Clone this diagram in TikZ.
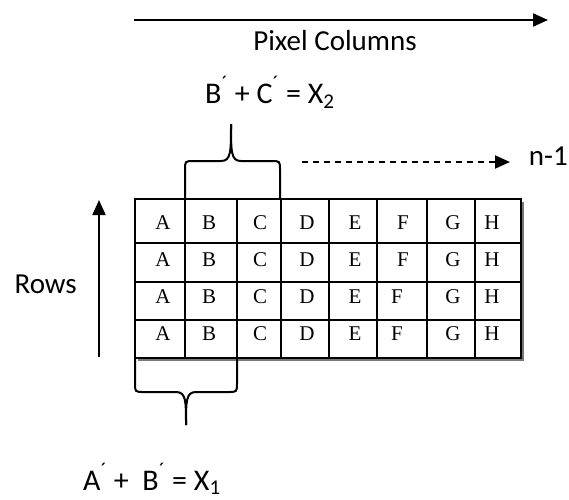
\documentclass[tikz,border=0pt]{standalone}
\usepackage{fontspec}
\setmainfont{Carlito}
\newfontfamily\fonteTab{Liberation Serif}
\usetikzlibrary{arrows.meta,positioning}
\definecolor{sombra}{RGB}{120,120,120}
\newcommand{\linha}{\raisebox{0.25ex}{\textsuperscript{´}}}
\tikzset{
  rotulo/.style={font=\fontsize{29}{32}\selectfont, inner sep=0pt},
  soma/.style={font=\fontsize{30}{33}\selectfont, inner sep=0pt},
  letra/.style={font=\fonteTab\fontsize{21}{23}\selectfont, inner sep=0pt},
  seta/.style={-{Triangle[length=15pt,width=13pt]}, line width=2pt},
  setatrac/.style={seta, dash pattern=on 6pt off 5pt},
  chave/.style={line width=2pt, line join=round},
  grade/.style={line width=1.6pt},
}
\begin{document}
\begin{tikzpicture}[x=1pt, y=-1pt]
  \useasboundingbox (0,0) rectangle (569,499);
  % setas e rotulos
  \coordinate (colini) at (134,20);
  \coordinate (colfim) at (548,20);
  \draw[seta] (colini) -- (colfim);
  \node[rotulo, anchor=base] (colunas) at (335,50) {Pixel Columns};
  \node[soma, anchor=base west] (somaX2) at (205,103) {B\linha\ + C\linha\ = X\textsubscript{2}};
  \coordinate (tracini) at (302,162);
  \coordinate (tracfim) at (510,162);
  \draw[setatrac] (tracini) -- (tracfim);
  \node[rotulo, anchor=base east] (n1) at (568,165) {n-1};
  \coordinate (linini) at (99,357);
  \coordinate (linfim) at (99,200);
  \draw[seta] (linini) -- (linfim);
  \node[rotulo, anchor=base east] (linhas) at (77,293) {Rows};
  \node[soma, anchor=base west] (somaX1) at (83,490) {A\linha\ +\ \ B\linha\ = X\textsubscript{1}};
  % tabela
  \fill[sombra] (138,202) rectangle (524,361);
  \fill[white] (135,199) rectangle (521,358);
  \foreach \x in {185,237,281,329,377,427,475}
    \draw[grade] (\x,199) -- (\x,358);
  \foreach \y in {243,282,320}
    \draw[grade] (135,\y) -- (521,\y);
  \draw[grade] (135,199) rectangle (521,358);
  \foreach \y/\r in {223/1,260/2}
    \foreach \l/\x in {A/163,B/209,C/260,D/307,E/355,F/403,G/453,H/492}
      \node[letra] (\l\r) at (\x,\y) {\l};
  \foreach \y/\r in {297/3,334/4}
    \foreach \l/\x in {A/163,B/209,C/260,D/307,E/355,F/397,G/453,H/492}
      \node[letra] (\l\r) at (\x,\y) {\l};
  % chaves
  \draw[chave] (185,199) -- (185,170) .. controls (185,161) .. (194,161) -- (221,161)
    .. controls (231,161) and (231,152) .. (231,124);
  \draw[chave] (280,199) -- (280,170) .. controls (280,161) .. (271,161) -- (241,161)
    .. controls (231,161) and (231,152) .. (231,124);
  \draw[chave] (135,358) -- (135,383) .. controls (135,392) .. (144,392) -- (176,392)
    .. controls (186,392) and (186,401) .. (186,425);
  \draw[chave] (237,358) -- (237,383) .. controls (237,392) .. (228,392) -- (196,392)
    .. controls (186,392) and (186,401) .. (186,425);
\end{tikzpicture}
\end{document}
